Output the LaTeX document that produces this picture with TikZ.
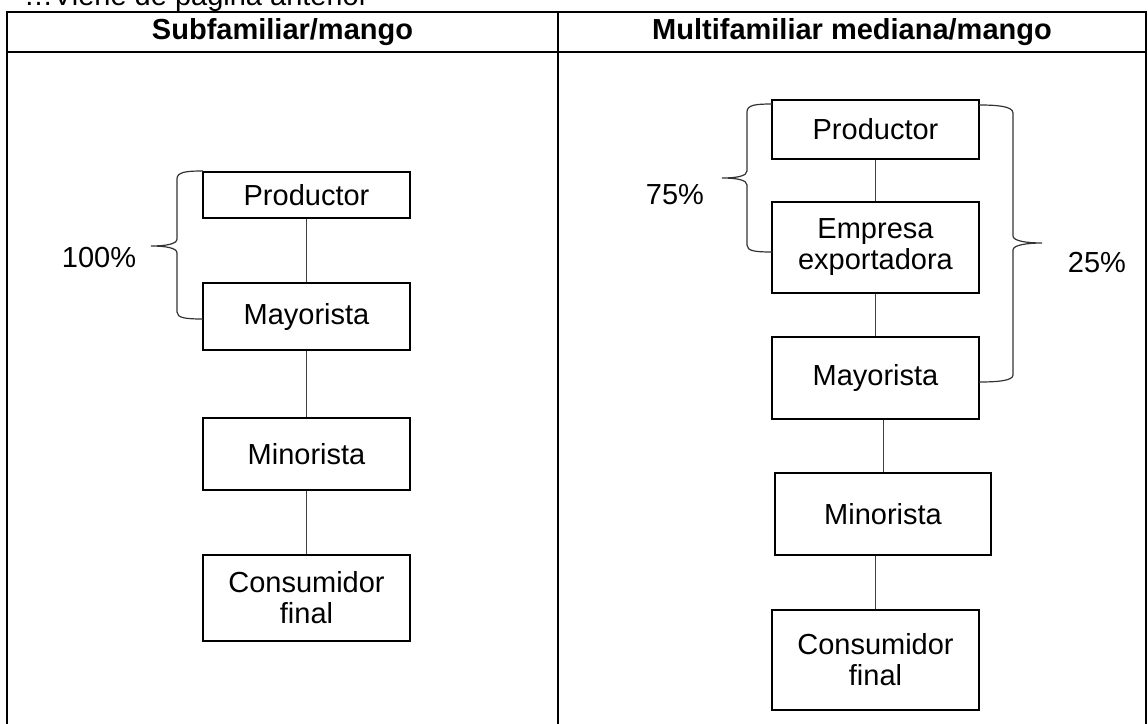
\documentclass[tikz,border=0pt]{standalone}
\usepackage{fontspec}
\setmainfont{Liberation Sans}
\usetikzlibrary{positioning}

\begin{document}
\begin{tikzpicture}[x=0.5pt, y=-0.5pt,
caja/.style={rectangle, draw=black, line width=1pt, minimum width=103.5pt, inner sep=0pt, align=center, font=\fontsize{14.5}{15.5}\selectfont},
enlace/.style={draw=black!75, line width=0.5pt},
llave/.style={draw=black!80, line width=0.6pt},
tabla/.style={draw=black, line width=1pt},
titulo/.style={font=\fontsize{14.5}{17}\selectfont\bfseries},
texto/.style={font=\fontsize{14.5}{17}\selectfont},
]
    \useasboundingbox (0,0) rectangle (1148,724);

    % Tabla
    \node [texto, anchor=base west] (viene) at (17,5) {…Viene de página anterior};
    \draw [tabla] (7,730) -- (7,12) -- (1146,12) -- (1146,730);
    \draw [tabla] (7,52) -- (1146,52);
    \draw [tabla] (558,12) -- (558,730);
    \node [titulo] (tituloA) at (282.5,32) {Subfamiliar/mango};
    \node [titulo] (tituloB) at (852,32) {Multifamiliar mediana/mango};

    % Subfamiliar
    \node [caja, minimum height=23pt] (prodA) at (306.5,195) {Productor};
    \node [caja, minimum height=33.5pt, below of=prodA, node distance=60.75pt] (mayA) {Mayorista};
    \node [caja, minimum height=36pt, below of=mayA, node distance=68.75pt] (minA) {Minorista};
    \node [caja, minimum height=43pt, below of=minA, node distance=72pt] (consA) {Consumidor\\final};

    \draw [enlace] (prodA) -- (mayA);
    \draw [enlace] (mayA) -- (minA);
    \draw [enlace] (minA) -- (consA);

    % Multifamiliar mediana
    \node [caja, minimum height=29.5pt] (prodB) at (875.5,129.5) {Productor};
    \node [caja, minimum height=45.5pt, below of=prodB, node distance=59pt] (empB) {Empresa\\exportadora};
    \node [caja, minimum height=41pt, below of=empB, node distance=65.25pt] (mayB) {Mayorista};
    \node [caja, minimum height=41pt, minimum width=108pt, below of=mayB, node distance=68pt, xshift=3.75pt] (minB) {Minorista};
    \node [caja, minimum height=50pt, below of=minB, node distance=73pt, xshift=-3.75pt] (consB) {Consumidor\\final};

    \draw [enlace] (prodB) -- (empB);
    \draw [enlace] (empB) -- (mayB);
    \draw [enlace] (minB.north) -- (minB.north |- mayB.south);
    \draw [enlace] (consB.north) -- (consB.north |- minB.south);

    % Llaves
    \draw [llave] (203,171) .. controls (186,171) and (177,172) .. (177,179) -- (177,239)
        .. controls (177,244) and (166,246) .. (151,246) .. controls (166,246) and (177,248) .. (177,253)
        -- (177,312) .. controls (177,318) and (186,319) .. (203,319);
    \node [texto] (pctA) at (99,258) {100\%};

    \draw [llave] (772,104) .. controls (755,104) and (747,105) .. (747,112) -- (747,171)
        .. controls (747,176) and (737,178) .. (722,178) .. controls (737,178) and (747,180) .. (747,185)
        -- (747,245) .. controls (747,251) and (755,252) .. (772,252);
    \node [texto] (pctB) at (675,195) {75\%};

    \draw [llave] (979,105) .. controls (996,105) and (1013,106) .. (1013,113) -- (1013,236)
        .. controls (1013,241) and (1027,243) .. (1042,243) .. controls (1027,243) and (1013,245) .. (1013,250)
        -- (1013,375) .. controls (1013,381) and (996,382) .. (979,382);
    \node [texto] (pctC) at (1097,263) {25\%};
\end{tikzpicture}
\end{document}
